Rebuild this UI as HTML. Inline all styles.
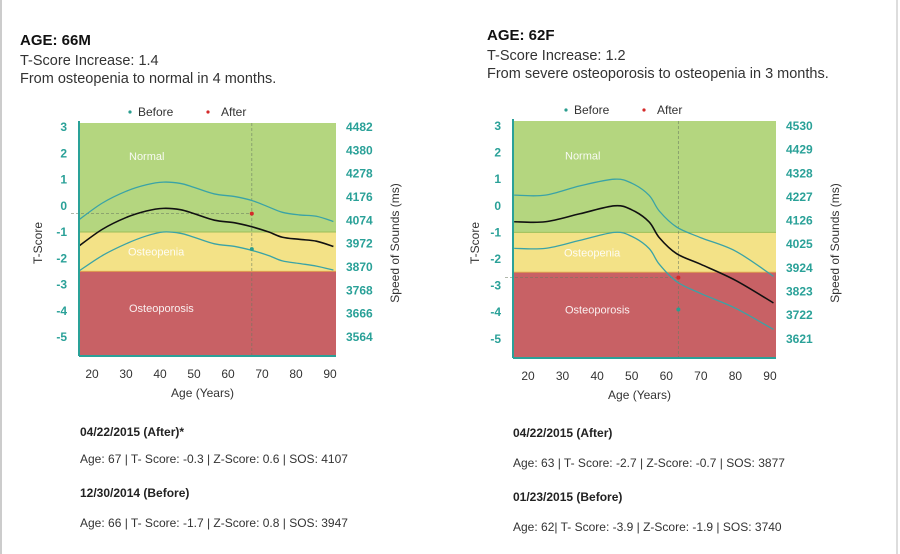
<!DOCTYPE html>
<html><head><meta charset="utf-8"><style>
body{margin:0;background:#fff;width:900px;height:554px;overflow:hidden;font-family:"Liberation Sans",sans-serif;}
svg{position:absolute;left:0;top:0}
</style></head><body>
<svg width="900" height="554">
<line x1="1" y1="0" x2="1" y2="554" stroke="#ccc" stroke-width="2"/>
<line x1="897" y1="0" x2="897" y2="554" stroke="#ddd" stroke-width="2"/>
<g id="root"></g>
</svg>
<script>
// ---- data: left chart (66M) ----
const leftAges=[16,23,30,36,41,46,50,56,62,67,72,76,81,86,91];
const leftMean=[-1.55,-0.9,-0.45,-0.2,-0.1,-0.15,-0.3,-0.55,-0.65,-0.8,-1.0,-1.2,-1.28,-1.35,-1.55];
const leftUpper=[-0.55,0.1,0.55,0.8,0.9,0.85,0.7,0.45,0.35,0.2,-0.05,-0.25,-0.35,-0.4,-0.6];
const leftLower=[-2.5,-1.9,-1.45,-1.15,-1.0,-1.05,-1.2,-1.45,-1.55,-1.7,-1.9,-2.1,-2.2,-2.3,-2.45];
const leftBefore=[67,-1.65];
const leftAfter=[67,-0.3];
const leftSos=["4482","4380","4278","4176","4074","3972","3870","3768","3666","3564"];
// ---- data: right chart (62F) ----
const rightAges=[16,25,35,45,50,55,58,63,70,80,91];
const rightMean=[-0.6,-0.6,-0.3,0,-0.15,-0.6,-1.2,-1.8,-2.2,-2.8,-3.65];
const rightUpper=[0.4,0.4,0.75,1.0,0.85,0.4,-0.2,-0.8,-1.2,-1.7,-2.65];
const rightLower=[-1.6,-1.6,-1.3,-1.0,-1.15,-1.6,-2.2,-2.85,-3.3,-3.85,-4.65];
const rightBefore=[63.5,-3.9];
const rightAfter=[63.5,-2.7];
const rightSos=["4530","4429","4328","4227","4126","4025","3924","3823","3722","3621"];
const tTicks=[3,2,1,0,-1,-2,-3,-4,-5];
const ageTicks=[20,30,40,50,60,70,80,90];

const NS="http://www.w3.org/2000/svg";
const root=document.getElementById('root');
function mk(tag,attrs,parent,txt){const e=document.createElementNS(NS,tag);for(const k in attrs)e.setAttribute(k,attrs[k]);if(txt!==undefined)e.textContent=txt;(parent||root).appendChild(e);return e;}
function smooth(pts){let d=`M${pts[0][0]},${pts[0][1]}`;for(let i=0;i<pts.length-1;i++){const p0=pts[Math.max(0,i-1)],p1=pts[i],p2=pts[i+1],p3=pts[Math.min(pts.length-1,i+2)];const c1=[p1[0]+(p2[0]-p0[0])/6,p1[1]+(p2[1]-p0[1])/6],c2=[p2[0]-(p3[0]-p1[0])/6,p2[1]-(p3[1]-p1[1])/6];d+=`C${c1[0]},${c1[1]} ${c2[0]},${c2[1]} ${p2[0]},${p2[1]}`;}return d;}

function chart(c){
  const g=mk('g',{});
  
  
  const x=a=>c.x20+(a-20)*c.px;
  const y=t=>c.y3+(3-t)*c.py;
  const L=c.left,R=c.right,T=c.top,B=c.bottom;
  const n=mk('rect',{x:L,y:T,width:R-L,height:y(-1)-T,fill:'#b4d67f'},g);
  
  const o=mk('rect',{x:L,y:y(-1),width:R-L,height:y(-2.5)-y(-1),fill:'#f3e287'},g);
  
  const r=mk('rect',{x:L,y:y(-2.5),width:R-L,height:B-y(-2.5),fill:'#c86165'},g);
  
  mk('line',{x1:L,x2:R,y1:y(-1),y2:y(-1),stroke:'#9bbf5a','stroke-width':1},g);
  mk('line',{x1:L,x2:R,y1:y(-2.5),y2:y(-2.5),stroke:'#e0a050','stroke-width':1},g);
  [['Normal',c.lblX,y(1.9)],['Osteopenia',c.lblX2,y(-1.75)],['Osteoporosis',c.lblX3,y(-3.9)]].forEach(([t,lx,ly])=>{
    const e=mk('text',{x:lx,y:ly+4,fill:'#fff','font-size':11,opacity:0.9},g,t);
    
  });
  mk('line',{x1:x(c.after[0]),x2:x(c.after[0]),y1:T,y2:B,stroke:'#6a7a60','stroke-width':0.8,'stroke-dasharray':'3,2',opacity:0.7},g);
  mk('line',{x1:L-8,x2:x(c.after[0]),y1:y(c.after[1]),y2:y(c.after[1]),stroke:'#6a7a60','stroke-width':0.8,'stroke-dasharray':'3,2',opacity:0.7},g);
  [[c.upper,'#3aa3a6',1.3,'upper-band-curve'],[c.lower,'#3aa3a6',1.3,'lower-band-curve'],[c.mean,'#111',1.6,'mean-curve']].forEach(([arr,col,w,nm])=>{
    const p=mk('path',{d:smooth(c.ages.map((a,i)=>[x(a),y(arr[i])])),fill:'none',stroke:col,'stroke-width':w},g);
    
  });
  const bp=mk('circle',{cx:x(c.before[0]),cy:y(c.before[1]),r:2,fill:'#2a9d8f'},g);
  
  const ap=mk('circle',{cx:x(c.after[0]),cy:y(c.after[1]),r:2,fill:'#d42a2a'},g);
  
  mk('line',{x1:L,x2:L,y1:T-2,y2:B,stroke:'#2aa198','stroke-width':2},g);
  mk('line',{x1:L,x2:R,y1:B,y2:B,stroke:'#2aa198','stroke-width':2},g);
  tTicks.forEach(t=>{
    const e=mk('text',{x:L-12,y:y(t)+4,'text-anchor':'end',fill:'#2aa198','font-size':12,'font-weight':'bold'},g,String(t));
    
  });
  const sosStep=(8*c.py)/(c.sos.length-1);
  c.sos.forEach((s,i)=>{
    const e=mk('text',{x:R+10,y:c.y3+i*sosStep+4,fill:'#2aa198','font-size':12,'font-weight':'bold'},g,s);
    
  });
  ageTicks.forEach(a=>{
    const e=mk('text',{x:x(a),y:B+22,'text-anchor':'middle',fill:'#333','font-size':12},g,String(a));
    
  });
  const xt=mk('text',{x:(L+R)/2-5,y:B+41,'text-anchor':'middle',fill:'#333','font-size':12},g,'Age (Years)');
  
  const yt=mk('text',{x:0,y:0,transform:`translate(${c.tX},${c.tY}) rotate(-90)`,'text-anchor':'middle',fill:'#333','font-size':12},g,'T-Score');
  
  const st=mk('text',{x:0,y:0,transform:`translate(${c.sX},${c.tY}) rotate(-90)`,'text-anchor':'middle',fill:'#333','font-size':12},g,'Speed of Sounds (ms)');
  
  mk('circle',{cx:c.legX,cy:c.legY-4,r:1.6,fill:'#2a9d8f'},g);
  const lb=mk('text',{x:c.legX+8,y:c.legY,fill:'#333','font-size':12},g,'Before');
  
  mk('circle',{cx:c.legX+78,cy:c.legY-4,r:1.6,fill:'#d42a2a'},g);
  const la=mk('text',{x:c.legX+91,y:c.legY,fill:'#333','font-size':12},g,'After');
  
}
chart({name:'chart-66m',ages:leftAges,mean:leftMean,upper:leftUpper,lower:leftLower,before:leftBefore,after:leftAfter,sos:leftSos,
  x20:92,px:3.4,y3:127,py:26.25,left:79,right:336,top:123,bottom:356,lblX:129,lblX2:128,lblX3:129,
  tX:42,sX:399,tY:243,legX:130,legY:116});
chart({name:'chart-62f',ages:rightAges,mean:rightMean,upper:rightUpper,lower:rightLower,before:rightBefore,after:rightAfter,sos:rightSos,
  x20:528,px:3.457,y3:126,py:26.6,left:513,right:776,top:121,bottom:358,lblX:565,lblX2:564,lblX3:565,
  tX:479,sX:839,tY:243,legX:566,legY:114});

const texts=[
 [20,45,'AGE: 66M',15,'bold','#111','left-age-heading'],
 [20,65,'T-Score Increase: 1.4',14.5,'normal','#333','left-increase'],
 [20,83,'From osteopenia to normal in 4 months.',14.5,'normal','#333','left-summary'],
 [80,436,'04/22/2015 (After)*',12,'bold','#222','left-after-date'],
 [80,463,'Age: 67 | T- Score: -0.3 | Z-Score: 0.6 | SOS: 4107',12,'normal','#333','left-after-stats'],
 [80,497,'12/30/2014 (Before)',12,'bold','#222','left-before-date'],
 [80,527,'Age: 66 | T- Score: -1.7 | Z-Score: 0.8 | SOS: 3947',12,'normal','#333','left-before-stats'],
 [487,40,'AGE: 62F',15,'bold','#111','right-age-heading'],
 [487,60,'T-Score Increase: 1.2',14.5,'normal','#333','right-increase'],
 [487,78,'From severe osteoporosis to osteopenia in 3 months.',14.5,'normal','#333','right-summary'],
 [513,437,'04/22/2015 (After)',12,'bold','#222','right-after-date'],
 [513,467,'Age: 63 | T- Score: -2.7 | Z-Score: -0.7 | SOS: 3877',12,'normal','#333','right-after-stats'],
 [513,501,'01/23/2015 (Before)',12,'bold','#222','right-before-date'],
 [513,531,'Age: 62| T- Score: -3.9 | Z-Score: -1.9 | SOS: 3740',12,'normal','#333','right-before-stats']
];
texts.forEach(([tx,ty,s,fs,fw,col,nm])=>{
  const e=mk('text',{x:tx,y:ty,'font-size':fs,'font-weight':fw,fill:col},root,s);
  
  
});
</script>
</body></html>
